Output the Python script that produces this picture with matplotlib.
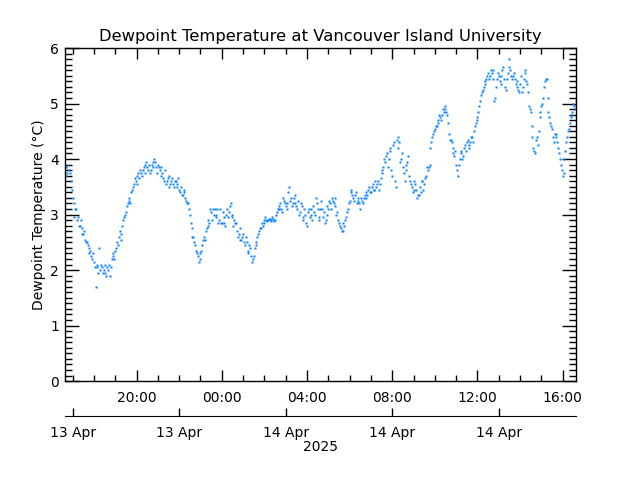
import numpy as np
import pandas as pd
import matplotlib
matplotlib.use('Agg')
import matplotlib.pyplot as plt
import matplotlib.dates as mdates

plt.rcParams.update({'font.size': 10, 'font.family': 'DejaVu Sans'})

# dewpoint readings every 5 minutes, starting 13 Apr 16:40, one row per hour
row16 = [3.85, 3.75, 3.8, 3.6, 3.3, 2.95, 3.1, 2.95, 2.8, 2.75, 2.65, 2.55]
row17 = [2.5, 2.4, 2.35, 2.2, 2.15, 1.7, 2.05, 2.4, 2.1, 1.95, 2.1, 1.9]
row18 = [2.0, 1.9, 2.2, 2.3, 2.35, 2.5, 2.6, 2.65, 2.8, 2.95, 3.05, 3.2]
row19 = [3.3, 3.4, 3.5, 3.65, 3.55, 3.75, 3.8, 3.7, 3.85, 3.9, 3.85, 3.9]
row20 = [3.8, 3.95, 4.0, 3.85, 3.9, 3.8, 3.85, 3.65, 3.8, 3.6, 3.7, 3.55]
row21 = [3.65, 3.5, 3.6, 3.55, 3.45, 3.5, 3.35, 3.4, 3.25, 3.2, 3.0, 2.75]
row22 = [2.6, 2.45, 2.3, 2.15, 2.3, 2.45, 2.6, 2.7, 2.8, 2.85, 3.05, 3.1]
row23 = [3.1, 3.0, 2.85, 3.1, 2.85, 2.95, 2.8, 3.1, 3.05, 3.2, 3.0, 2.9]
row00 = [2.85, 2.6, 2.75, 2.55, 2.65, 2.45, 2.5, 2.35, 2.4, 2.15, 2.25, 2.45]
row01 = [2.6, 2.7, 2.75, 2.8, 2.9, 2.9, 2.9, 2.92, 2.88, 2.92, 2.9, 3.05]
row02 = [3.1, 3.2, 3.05, 3.25, 3.15, 3.2, 3.5, 3.3, 3.2, 3.35, 3.15, 3.25]
row03 = [3.05, 3.15, 2.95, 3.0, 2.8, 3.1, 3.0, 2.9, 3.05, 3.3, 3.1, 2.95]
row04 = [3.25, 2.95, 2.85, 3.0, 3.1, 3.2, 3.3, 3.2, 3.15, 3.05, 2.85, 2.75]
row05 = [2.7, 2.8, 2.95, 3.1, 3.25, 3.45, 3.3, 3.35, 3.2, 3.3, 3.1, 3.25]
row06 = [3.3, 3.4, 3.35, 3.5, 3.4, 3.55, 3.45, 3.5, 3.6, 3.55, 3.75, 3.85]
row07 = [3.95, 4.1, 4.0, 4.2, 3.7, 4.3, 3.5, 4.4, 4.3, 4.0, 3.85, 3.6]
row08 = [3.9, 4.05, 3.6, 3.5, 3.45, 3.55, 3.3, 3.35, 3.4, 3.6, 3.55, 3.7]
row09 = [3.8, 3.9, 4.3, 4.45, 4.55, 4.6, 4.7, 4.75, 4.8, 4.85, 4.95, 4.8]
row10 = [4.45, 4.35, 4.2, 4.05, 3.9, 3.7, 4.0, 4.15, 4.05, 4.25, 4.3, 4.2]
row11 = [4.3, 4.4, 4.5, 4.65, 4.75, 4.95, 5.15, 5.25, 5.35, 5.45, 5.55, 5.5]
row12 = [5.55, 5.6, 5.1, 5.45, 5.5, 5.35, 5.6, 5.45, 5.25, 5.55, 5.8, 5.5]
row13 = [5.5, 5.45, 5.3, 5.25, 5.35, 5.2, 5.45, 5.55, 5.35, 4.95, 4.85, 4.4]
row14 = [4.15, 4.35, 4.25, 4.75, 4.95, 5.1, 5.4, 5.45, 4.85, 4.65, 4.55, 4.3]
row15 = [4.45, 4.3, 4.1, 3.9, 3.7, 4.0, 4.3, 4.5, 4.65, 4.85, 5.0, 4.9]

# the in-between readings (starting 16:42:30), the sensor is noisy
half16 = [3.7, 3.9, 3.75, 3.45, 3.2, 3.1, 2.9, 2.8, 2.9, 2.65, 2.7, 2.5]
half17 = [2.45, 2.3, 2.25, 2.3, 2.05, 2.1, 1.95, 2.0, 2.05, 2.0, 1.95, 2.05]
half18 = [2.1, 2.05, 2.25, 2.2, 2.4, 2.45, 2.7, 2.55, 2.9, 3.0, 3.15, 3.25]
half19 = [3.2, 3.45, 3.55, 3.6, 3.7, 3.65, 3.75, 3.8, 3.75, 3.95, 3.8, 3.75]
half20 = [3.9, 3.85, 3.95, 3.75, 3.85, 3.7, 3.75, 3.6, 3.55, 3.65, 3.5, 3.6]
half21 = [3.55, 3.6, 3.5, 3.65, 3.4, 3.35, 3.45, 3.3, 3.2, 3.1, 2.85, 2.6]
half22 = [2.5, 2.35, 2.25, 2.2, 2.35, 2.55, 2.55, 2.75, 2.9, 3.1, 2.9, 3.0]
half23 = [2.95, 3.1, 2.9, 2.85, 3.05, 2.85, 3.0, 2.95, 3.15, 2.95, 2.8, 2.85]
half00 = [2.7, 2.65, 2.55, 2.6, 2.5, 2.6, 2.3, 2.45, 2.25, 2.2, 2.4, 2.5]
half01 = [2.65, 2.75, 2.85, 2.85, 2.95, 2.88, 2.92, 2.9, 2.95, 2.88, 3.0, 3.1]
half02 = [3.15, 3.1, 3.3, 3.2, 3.1, 3.4, 3.25, 3.15, 3.3, 3.2, 3.1, 3.0]
half03 = [3.2, 2.9, 3.1, 2.85, 3.05, 2.95, 3.1, 3.15, 3.0, 3.2, 2.9, 3.1]
half04 = [3.1, 3.05, 2.9, 3.15, 3.25, 3.1, 3.25, 3.3, 3.0, 2.9, 2.8, 2.7]
half05 = [2.85, 2.9, 3.05, 3.2, 3.4, 3.35, 3.25, 3.4, 3.25, 3.2, 3.3, 3.2]
half06 = [3.35, 3.3, 3.45, 3.4, 3.5, 3.45, 3.6, 3.55, 3.45, 3.65, 3.8, 4.0]
half07 = [4.05, 3.85, 4.15, 3.8, 4.25, 3.6, 4.35, 4.2, 3.95, 4.1, 3.75, 3.8]
half08 = [3.95, 3.7, 3.55, 3.4, 3.6, 3.45, 3.35, 3.5, 3.6, 3.45, 3.65, 3.85]
half09 = [3.85, 4.2, 4.4, 4.5, 4.6, 4.65, 4.8, 4.7, 4.9, 4.9, 4.85, 4.65]
half10 = [4.35, 4.3, 4.1, 4.15, 3.8, 3.9, 4.1, 4.0, 4.2, 4.15, 4.35, 4.25]
half11 = [4.4, 4.3, 4.6, 4.7, 4.85, 5.05, 5.2, 5.3, 5.4, 5.5, 5.45, 5.6]
half12 = [5.45, 5.05, 5.3, 5.55, 5.4, 5.5, 5.65, 5.3, 5.45, 5.65, 5.6, 5.45]
half13 = [5.55, 5.35, 5.4, 5.2, 5.5, 5.3, 5.6, 5.4, 5.2, 4.9, 4.6, 4.2]
half14 = [4.1, 4.4, 4.5, 4.85, 5.0, 5.3, 5.45, 5.1, 4.75, 4.6, 4.4, 4.45]
half15 = [4.4, 4.2, 4.0, 3.8, 3.75, 4.15, 4.4, 4.55, 4.75, 4.8, 4.95, 5.05]

dewpoint = np.array(row16 + row17 + row18 + row19 + row20 + row21 + row22 + row23 +
                    row00 + row01 + row02 + row03 + row04 + row05 + row06 + row07 +
                    row08 + row09 + row10 + row11 + row12 + row13 + row14 + row15)
dewpoint_half = np.array(half16 + half17 + half18 + half19 + half20 + half21 + half22 + half23 +
                         half00 + half01 + half02 + half03 + half04 + half05 + half06 + half07 +
                         half08 + half09 + half10 + half11 + half12 + half13 + half14 + half15)
times = pd.date_range('2025-04-13 16:40', periods=len(dewpoint), freq='5min')
times_half = pd.date_range('2025-04-13 16:42:30', periods=len(dewpoint_half), freq='5min')

t0 = pd.Timestamp('2025-04-13 16:37:30')
t1 = pd.Timestamp('2025-04-14 16:37:30')

fig = plt.figure(figsize=(6.4, 4.8), dpi=100)
ax = fig.add_axes([0.101, 0.206, 0.799, 0.694])

ax.plot(times, dewpoint, 's', color='#0a80ff', ms=1.9, mec='none')
ax.plot(times_half, dewpoint_half, 's', color='#0a80ff', ms=1.9, mec='none')

ax.set_xlim(t0, t1)
ax.set_ylim(0, 6)
ax.set_yticks(np.arange(0, 7, 1))
ax.yaxis.set_minor_locator(plt.MultipleLocator(0.1))
ax.xaxis.set_major_locator(mdates.HourLocator(byhour=[0, 4, 8, 12, 16, 20]))
ax.xaxis.set_minor_locator(mdates.HourLocator())
ax.xaxis.set_major_formatter(mdates.DateFormatter('%H:%M'))

# IDL style: ticks inside on every side
ax.tick_params(which='both', direction='in', top=True, right=True, width=1)
ax.tick_params(axis='y', which='major', length=10, pad=4)
ax.tick_params(axis='y', which='minor', length=5)
ax.tick_params(axis='x', which='major', length=8, pad=7)
ax.tick_params(axis='x', which='minor', length=4)
for s in ax.spines.values():
    s.set_linewidth(1)

ax.set_title('Dewpoint Temperature at Vancouver Island University', fontsize=11.8, pad=5)
ax.set_ylabel('Dewpoint Temperature (\u00b0C)', labelpad=3)

# second date axis underneath
ax2 = fig.add_axes([0.101, 1 - 416 / 480, 0.799, 0.0001])
ax2.set_xlim(t0, t1)
ax2.set_yticks([])
for side in ['top', 'left', 'right']:
    ax2.spines[side].set_visible(False)
ax2.patch.set_visible(False)
ax2.xaxis.set_major_locator(mdates.HourLocator(byhour=[3, 8, 13, 17, 22]))
ax2.xaxis.set_major_formatter(mdates.DateFormatter('%d %b'))
ax2.tick_params(axis='x', direction='in', length=6, width=1, pad=7)
ax2.set_xlabel('2025', labelpad=0)

fig.savefig('out.png', dpi=100)
